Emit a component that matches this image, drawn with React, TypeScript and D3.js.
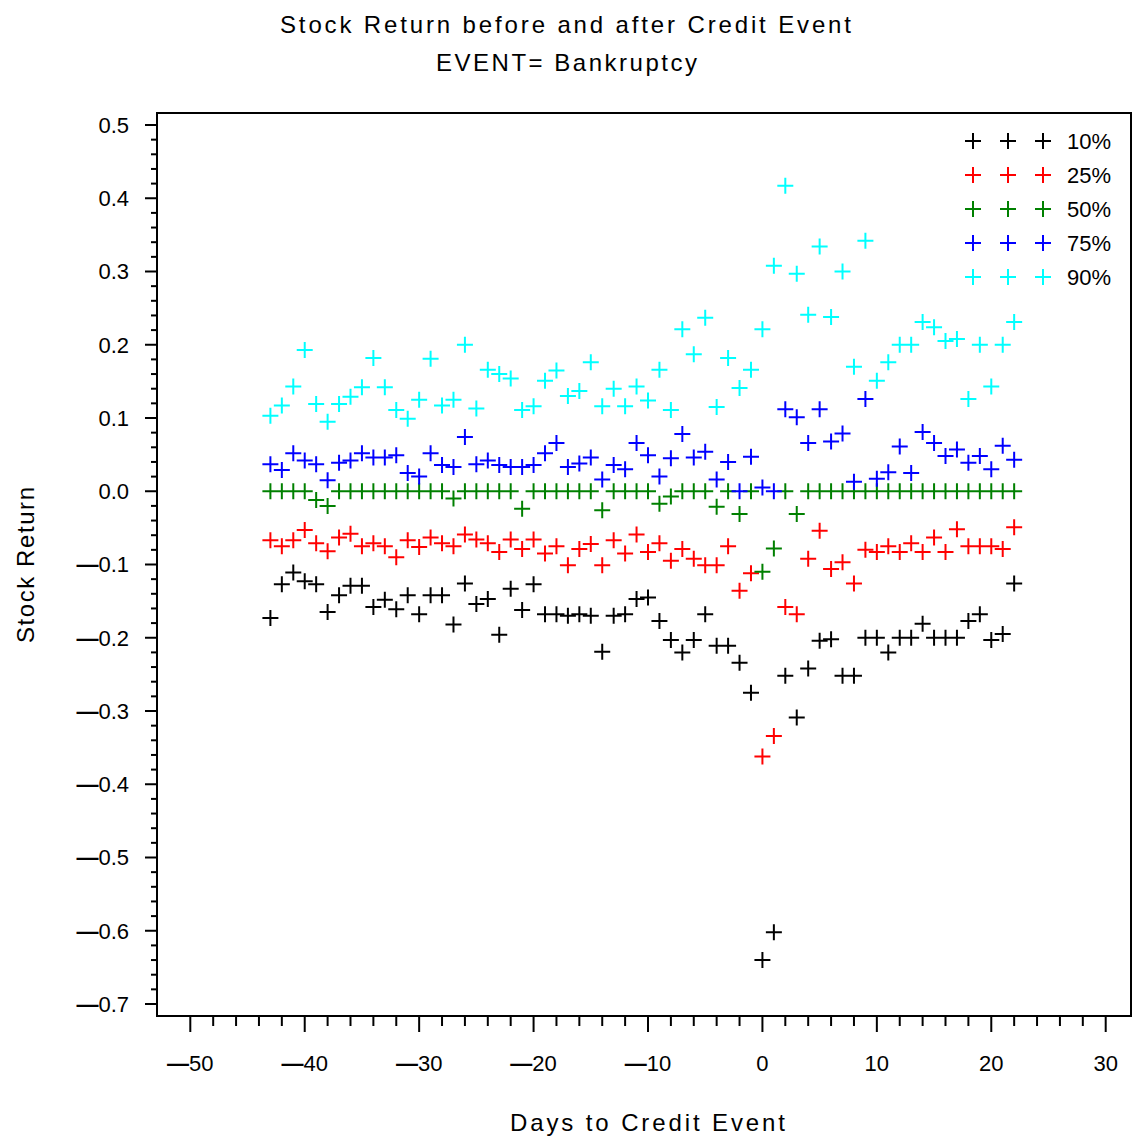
import React from "react";
import * as d3 from "d3";

// Days relative to the credit event
const days = [
  -43, -42, -41, -40, -39, -38, -37, -36, -35, -34, -33, -32, -31, -30, -29, -28, -27,
  -26, -25, -24, -23, -22, -21, -20, -19, -18, -17, -16, -15, -14, -13, -12, -11, -10,
  -9, -8, -7, -6, -5, -4, -3, -2, -1, 0, 1, 2, 3, 4, 5, 6, 7, 8, 9, 10, 11, 12, 13, 14,
  15, 16, 17, 18, 19, 20, 21, 22,
];

// Percentiles of stock return per day
const p10 = [
  -0.173, -0.127, -0.111, -0.123, -0.127, -0.165, -0.142, -0.129, -0.129, -0.158, -0.148,
  -0.161, -0.142, -0.168, -0.142, -0.142, -0.182, -0.126, -0.154, -0.147, -0.196, -0.133,
  -0.162, -0.127, -0.168, -0.168, -0.17, -0.168, -0.17, -0.219, -0.17, -0.168, -0.147,
  -0.145, -0.177, -0.203, -0.22, -0.203, -0.168, -0.211, -0.211, -0.234, -0.275, -0.64,
  -0.602, -0.252, -0.309, -0.242, -0.204, -0.202, -0.252, -0.252, -0.2, -0.2, -0.22, -0.2,
  -0.2, -0.181, -0.2, -0.2, -0.2, -0.177, -0.168, -0.203, -0.195, -0.126,
];
const p25 = [
  -0.067, -0.075, -0.067, -0.053, -0.071, -0.082, -0.063, -0.058, -0.075, -0.071, -0.075,
  -0.09, -0.067, -0.076, -0.063, -0.071, -0.075, -0.059, -0.066, -0.071, -0.083, -0.066,
  -0.079, -0.066, -0.085, -0.075, -0.101, -0.079, -0.072, -0.101, -0.067, -0.085, -0.059,
  -0.083, -0.071, -0.095, -0.079, -0.092, -0.101, -0.101, -0.075, -0.136, -0.112, -0.362,
  -0.334, -0.158, -0.168, -0.092, -0.054, -0.106, -0.097, -0.126, -0.08, -0.083, -0.075,
  -0.083, -0.071, -0.083, -0.063, -0.083, -0.052, -0.075, -0.075, -0.075, -0.079, -0.049,
];
const p50 = [
  0, 0, 0, 0, -0.012, -0.02, 0, 0, 0, 0, 0, 0, 0, 0, 0, 0, -0.01, 0, 0, 0, 0, 0, -0.024, 0,
  0, 0, 0, 0, 0, -0.026, 0, 0, 0, 0, -0.017, -0.007, 0, 0, 0, -0.021, 0, -0.031, 0, -0.11,
  -0.078, 0, -0.031, 0, 0, 0, 0, 0, 0, 0, 0, 0, 0, 0, 0, 0, 0, 0, 0, 0, 0, 0,
];
const p75 = [
  0.037, 0.029, 0.052, 0.042, 0.037, 0.015, 0.039, 0.042, 0.052, 0.046, 0.046, 0.049,
  0.025, 0.02, 0.052, 0.036, 0.033, 0.074, 0.037, 0.042, 0.036, 0.033, 0.033, 0.036,
  0.052, 0.066, 0.033, 0.038, 0.046, 0.016, 0.036, 0.03, 0.066, 0.049, 0.02, 0.045, 0.078,
  0.046, 0.054, 0.016, 0.04, 0.0, 0.047, 0.005, 0.0, 0.112, 0.101, 0.066, 0.112, 0.068,
  0.079, 0.013, 0.126, 0.017, 0.026, 0.061, 0.025, 0.081, 0.066, 0.048, 0.057, 0.039,
  0.048, 0.03, 0.062, 0.043,
];
const p90 = [
  0.103, 0.117, 0.143, 0.193, 0.119, 0.095, 0.119, 0.129, 0.142, 0.182, 0.142, 0.111,
  0.099, 0.125, 0.181, 0.117, 0.125, 0.2, 0.113, 0.166, 0.16, 0.154, 0.111, 0.116, 0.151,
  0.165, 0.13, 0.137, 0.176, 0.116, 0.14, 0.116, 0.143, 0.124, 0.166, 0.111, 0.221, 0.187,
  0.237, 0.115, 0.182, 0.141, 0.166, 0.221, 0.308, 0.417, 0.297, 0.241, 0.334, 0.238, 0.3,
  0.17, 0.342, 0.151, 0.176, 0.2, 0.2, 0.231, 0.224, 0.205, 0.208, 0.126, 0.2, 0.143, 0.2,
  0.231,
];

const seriesNames = ["10%", "25%", "50%", "75%", "90%"];
const seriesValues = [p10, p25, p50, p75, p90];
const seriesColors = ["#000000", "#ff0000", "#008000", "#0000ff", "#00ffff"];

const xMajorTicks = [-50, -40, -30, -20, -10, 0, 10, 20, 30];
const yMajorTicks = [-0.7, -0.6, -0.5, -0.4, -0.3, -0.2, -0.1, 0.0, 0.1, 0.2, 0.3, 0.4, 0.5];

const FONT = "'Liberation Sans', Arial, sans-serif";

function tickLabel(v: number, digits: number) {
  const s = Math.abs(v).toFixed(digits);
  if (v < -1e-9) {
    return (
      <>
        <tspan fontWeight="bold">—</tspan>
        <tspan>{s}</tspan>
      </>
    );
  }
  return s;
}

export default function App() {
  const W = 1132;
  const H = 1138;
  const frame = { left: 157, right: 1131, top: 113, bottom: 1016 };

  const x = d3.scaleLinear().domain([-50, 30]).range([190.3, 1105.7]);
  const y = d3.scaleLinear().domain([-0.7, 0.5]).range([1004, 125]);

  const xMinor = d3.range(-50, 31, 2).filter((v) => v % 10 !== 0);
  const yMinor = d3
    .range(-70, 51, 2)
    .filter((v) => v % 10 !== 0)
    .map((v) => v / 100);

  const arm = 8;
  const crossPath = (cx: number, cy: number) =>
    `M${cx - arm},${cy}h${arm * 2}M${cx},${cy - arm}v${arm * 2}`;

  const legendX = [973, 1008, 1043];
  const legendY = d3.range(seriesNames.length).map((i) => 141 + i * 34);

  return (
    <svg
      width={W}
      height={H}
      style={{ position: "absolute", left: 0, top: 0, background: "#fff" }}
      fontFamily={FONT}
    >
      <rect x={0} y={0} width={W} height={H} fill="#fff" />

      {/* Titles */}
      <text x={280} y={33} fontSize={24} textLength={571} lengthAdjust="spacing">
        Stock Return before and after Credit Event
      </text>
      <text x={436} y={71} fontSize={24} textLength={261} lengthAdjust="spacing">
        EVENT= Bankruptcy
      </text>

      {/* Plot frame */}
      <rect
        x={frame.left}
        y={frame.top}
        width={frame.right - frame.left}
        height={frame.bottom - frame.top}
        fill="none"
        stroke="#000"
        strokeWidth={2}
      />

      {/* Y axis ticks and labels */}
      {yMajorTicks.map((v) => (
        <g key={`ym${v}`}>
          <line x1={145} x2={frame.left} y1={y(v)} y2={y(v)} stroke="#000" strokeWidth={2} />
          <text x={129} y={y(v)} dy="0.36em" fontSize={22} textAnchor="end">
            {tickLabel(v, 1)}
          </text>
        </g>
      ))}
      {yMinor.map((v) => (
        <line key={`yn${v}`} x1={151} x2={frame.left} y1={y(v)} y2={y(v)} stroke="#000" strokeWidth={2} />
      ))}

      {/* X axis ticks and labels */}
      {xMajorTicks.map((v) => (
        <g key={`xm${v}`}>
          <line x1={x(v)} x2={x(v)} y1={frame.bottom} y2={1032} stroke="#000" strokeWidth={2} />
          <text x={x(v)} y={1071} fontSize={22} textAnchor="middle">
            {tickLabel(v, 0)}
          </text>
        </g>
      ))}
      {xMinor.map((v) => (
        <line key={`xn${v}`} x1={x(v)} x2={x(v)} y1={frame.bottom} y2={1026} stroke="#000" strokeWidth={2} />
      ))}

      {/* Axis titles */}
      <text x={510} y={1131} fontSize={24} textLength={275} lengthAdjust="spacing">
        Days to Credit Event
      </text>
      <text
        transform={`translate(34,643) rotate(-90)`}
        fontSize={24}
        textLength={156}
        lengthAdjust="spacing"
      >
        Stock Return
      </text>

      {/* Data markers */}
      {seriesValues.map((vals, si) => (
        <path
          key={seriesNames[si]}
          d={vals.map((v, i) => crossPath(x(days[i]), y(v))).join("")}
          stroke={seriesColors[si]}
          strokeWidth={2}
          fill="none"
        />
      ))}

      {/* Legend */}
      {seriesNames.map((name, si) => (
        <g key={`lg${name}`}>
          <path
            d={legendX.map((lx) => crossPath(lx, legendY[si])).join("")}
            stroke={seriesColors[si]}
            strokeWidth={2}
            fill="none"
          />
          <text x={1067} y={legendY[si]} dy="0.36em" fontSize={22}>
            {name}
          </text>
        </g>
      ))}
    </svg>
  );
}
